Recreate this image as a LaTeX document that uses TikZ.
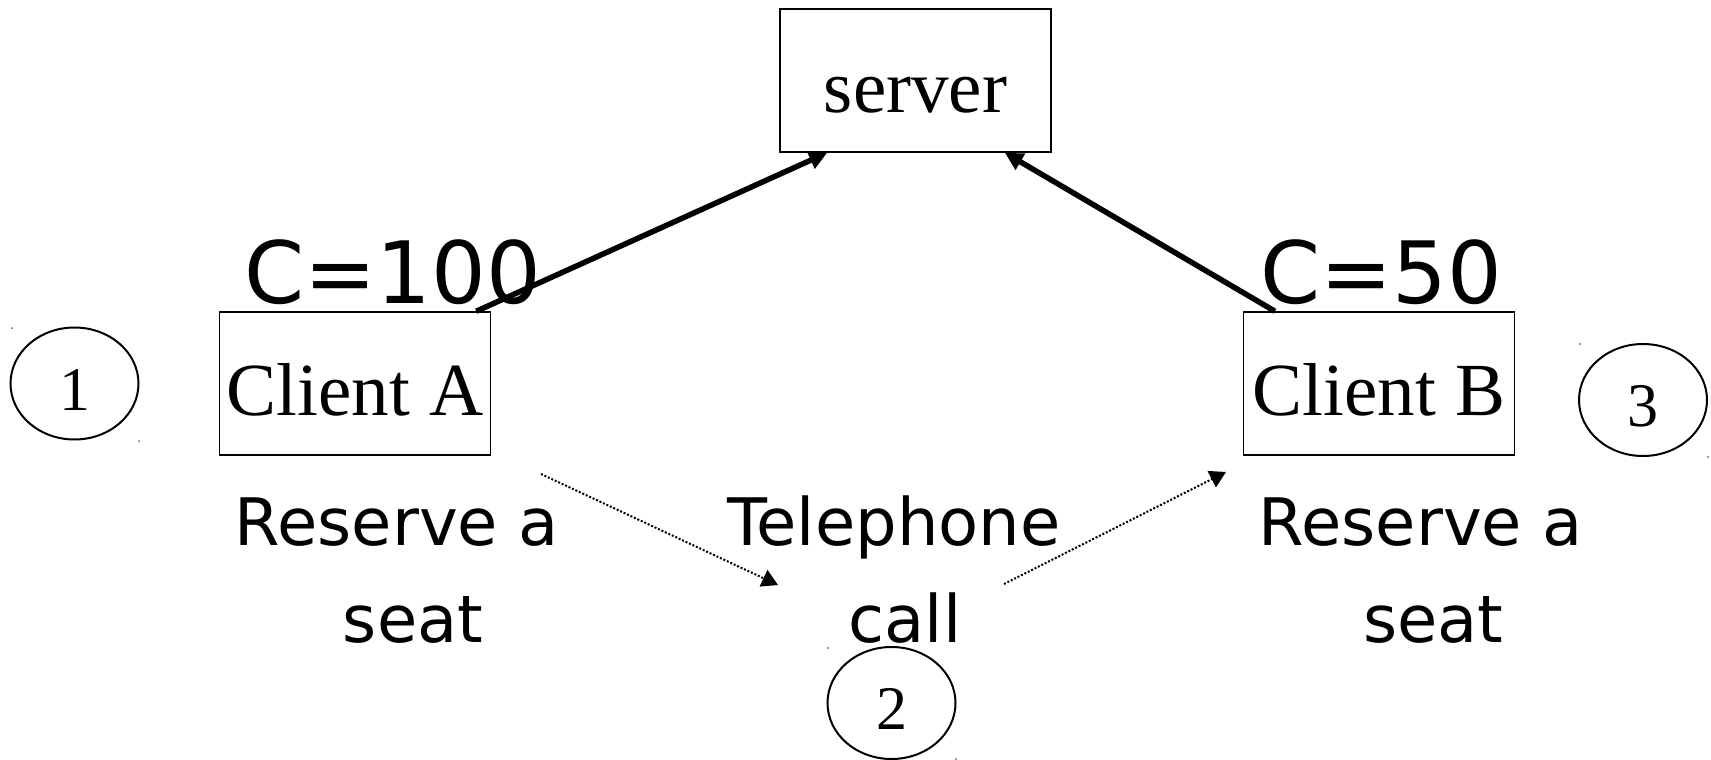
\documentclass[tikz,border=0pt]{standalone}
\usepackage{fontspec}
\setmainfont{Liberation Serif}
\newfontfamily\dejavu{DejaVu Sans}
\usetikzlibrary{arrows.meta,calc,shapes.geometric}
\begin{document}
\begin{tikzpicture}[x=1pt,y=-1pt,
  box/.style={draw, line width=1.5pt, inner sep=0pt, minimum width=271pt, text height=103pt, text depth=40pt, font=\fontsize{75}{90}\selectfont, anchor=base},
  num/.style={draw, ellipse, line width=2pt, inner sep=0pt, minimum width=128pt, minimum height=112pt, text height=60pt, text depth=7pt, font=\fontsize{62}{70}\selectfont},
  captext/.style={font=\dejavu\fontsize{86}{100}\selectfont, inner sep=0pt, anchor=base},
  lab/.style={font=\dejavu\fontsize{65.5}{76}\selectfont, inner sep=0pt, anchor=base},
  solidarrow/.style={line width=5.5pt, -{Triangle[length=18pt,width=18pt]}},
  dotarrow/.style={line width=2pt, dash pattern=on 2pt off 1.8pt, -{Triangle[length=16pt,width=18pt]}},
  speck/.style={fill=black!60}
]
\useasboundingbox (0,0) rectangle (1711,760);

\node[box] (server) at (915.5,112) {server};
\node[box] (clientA) at (355,415) {Client A};
\node[box] (clientB) at (1379,415) {Client B};

\node[captext] (capA) at (393,303) {C=100};
\node[captext] (capB) at (1381.5,303) {C=50};

\node[lab] (resA1) at (397,545) {Reserve a};
\node[lab] (resA2) at (413,642) {seat};
\node[lab] (tel1) at (894,545) {Telephone};
\node[lab] (tel2) at (905,642) {call};
\node[lab] (resB1) at (1421,545) {Reserve a};
\node[lab] (resB2) at (1433.5,642) {seat};

\node[num] (n1) at (74.5,383.5) {1};
\node[num] (n2) at (891.5,703) {2};
\node[num] (n3) at (1643,400) {3};

\fill[speck] (12,328) circle (1pt);
\fill[speck] (139,441) circle (1pt);
\fill[speck] (828,648) circle (1pt);
\fill[speck] (956,759) circle (1pt);
\fill[speck] (1580,344) circle (1pt);
\fill[speck] (1708,457) circle (1pt);

\draw[solidarrow] ($(clientA.north west)!0.945!(clientA.north east)$) -- ($(server.south west)!0.176!(server.south east)$);
\draw[solidarrow] ($(clientB.north west)!0.118!(clientB.north east)$) -- ($(server.south west)!0.828!(server.south east)$);

\coordinate (d1s) at (541,474);
\coordinate (d1e) at (778,585);
\coordinate (d2s) at (1004,584);
\coordinate (d2e) at (1226,472);
\draw[dotarrow] (d1s) -- (d1e);
\draw[dotarrow] (d2s) -- (d2e);
\end{tikzpicture}
\end{document}
